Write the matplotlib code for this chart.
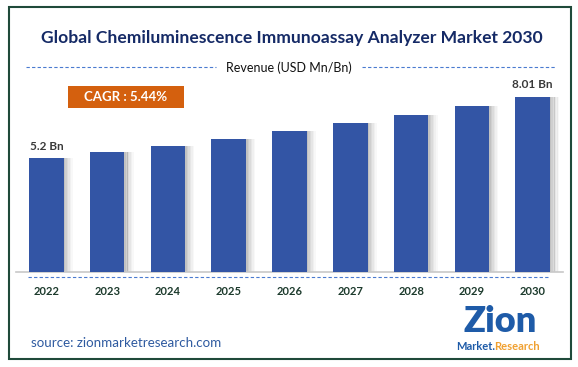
import matplotlib.pyplot as plt
from matplotlib.patches import Rectangle

years = ['2022', '2023', '2024', '2025', '2026', '2027', '2028', '2029', '2030']
revenue = [5.2, 5.48, 5.76, 6.08, 6.43, 6.79, 7.16, 7.57, 8.01]
first_label = '5.2 Bn'
last_label = '8.01 Bn'
cagr_text = 'CAGR : 5.44%'

W, H = 578, 367
fig = plt.figure(figsize=(W / 100, H / 100), dpi=100)
fig.patch.set_facecolor('white')

def fx(px):
    return px / W

def fy(py):
    return 1 - py / H

# outer frame
fig.patches.append(Rectangle((fx(9), fy(359)), fx(571) - fx(9), fy(7) - fy(359),
                             transform=fig.transFigure, fill=False,
                             edgecolor='#1f4a3a', linewidth=1.5))

# bars with a soft shadow on the right
ax = fig.add_axes([fx(16), fy(272), fx(563) - fx(16), fy(80) - fy(272)])
x = list(range(len(years)))
shade = [0.45, 0.35, 0.26, 0.18, 0.11, 0.05]
for k, a in enumerate(shade):
    ax.bar([i + 0.285 + k * 0.025 + 0.0125 for i in x], revenue, width=0.026,
           color='#777777', alpha=a, linewidth=0)
ax.bar(x, revenue, width=0.57, color='#3355a5', linewidth=0, zorder=3)
ax.set_xlim(-0.5, 8.5)
ax.set_ylim(0, 192 / 21.9)
for s in ['top', 'right', 'left']:
    ax.spines[s].set_visible(False)
ax.spines['bottom'].set_color('#c8c8c8')
ax.spines['bottom'].set_linewidth(1.2)
ax.set_yticks([])
ax.set_xticks(x)
ax.set_xticklabels(years, fontsize=8, fontweight='bold', color='#1c3a2c',
                   family='Lato')
ax.tick_params(axis='x', length=0, pad=10)

ax.text(x[0], revenue[0] + 0.3, first_label, ha='center', va='bottom',
        fontsize=8.5, fontweight='bold', color='#3a3a3a', family='Lato')
ax.text(x[-1], revenue[-1] + 0.3, last_label, ha='center', va='bottom',
        fontsize=8.5, fontweight='bold', color='#3a3a3a', family='Lato')

# dashed line under the axis
fig.add_artist(plt.Line2D([fx(28), fx(549)], [fy(277), fy(277)],
                          color='#4a7bd0', linestyle=(0, (3, 2)), linewidth=0.8))

# title and subtitle
fig.text(fx(292), fy(38), 'Global Chemiluminescence Immunoassay Analyzer Market 2030',
         ha='center', va='center', fontsize=12.6, fontweight='bold',
         color='#152a66', family='Lato')
fig.text(fx(289), fy(68), 'Revenue (USD Mn/Bn)', ha='center', va='center',
         fontsize=9, color='#111111', family='Lato')
for x0, x1 in [(26, 216), (362, 556)]:
    fig.add_artist(plt.Line2D([fx(x0), fx(x1)], [fy(67), fy(67)],
                              color='#4a7bd0', linestyle=(0, (3, 2)), linewidth=0.8))

# CAGR box
fig.patches.append(Rectangle((fx(68), fy(108)), fx(184) - fx(68), fy(86) - fy(108),
                             transform=fig.transFigure, facecolor='#d4600e',
                             edgecolor='none'))
fig.text(fx(126), fy(97), cagr_text, ha='center', va='center', fontsize=9.5,
         fontweight='bold', color='white', family='Lato')

# source
fig.text(fx(31), fy(343), 'source: zionmarketresearch.com', ha='left', va='center',
         fontsize=9.6, color='#2e5aa0', family='Lato')

# logo (text approximation)
fig.text(fx(500), fy(321), 'Zion', ha='center', va='center', fontsize=26,
         fontweight='heavy', color='#1e5ba8', family='Lato')
fig.text(fx(476), fy(347), 'Market.', ha='center', va='center', fontsize=8,
         fontweight='bold', color='#1e5ba8', family='Lato')
fig.text(fx(517), fy(347), 'Research', ha='center', va='center', fontsize=8,
         fontweight='bold', color='#f0a030', family='Lato')

fig.savefig('out.png', dpi=100)
